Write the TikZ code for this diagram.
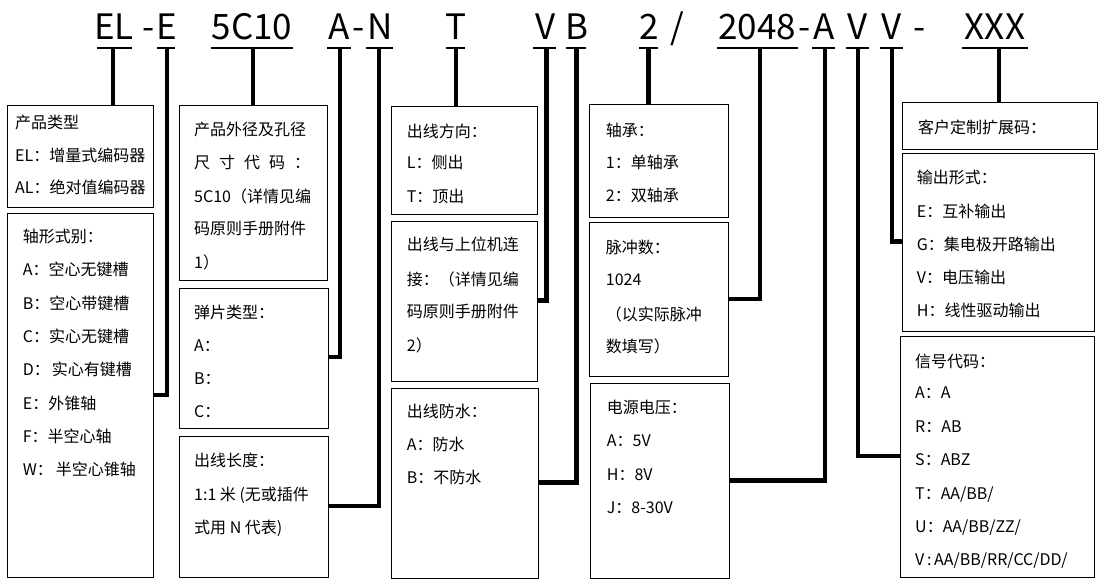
\documentclass[tikz,border=0pt]{standalone}
\usepackage{fontspec}
\setmainfont{Noto Sans CJK SC}
\begin{document}
\begin{tikzpicture}[x=1pt,y=-1pt,
  box/.style={draw, line width=1.2pt, anchor=north west, inner sep=0pt},
  txt/.style={anchor=base west, inner sep=0pt, font=\fontsize{16}{19}\selectfont},
  code/.style={anchor=base, inner sep=0pt, font=\fontsize{35}{40}\selectfont},
  stem/.style={line width=4.5pt, line join=miter},
  uline/.style={line width=2.2pt}]
\useasboundingbox[fill=white] (0,0) rectangle (1102,583);

% ---- code line ----
\node[code] (cEL) at (114,40) {EL};
\node[code] (cd1) at (149,40) {-};
\node[code] (cE) at (167,40) {E};
\node[code] (c5C) at (252,40) {5C10};
\node[code] (cA1) at (339,40) {A};
\node[code] (cd2) at (359,40) {-};
\node[code] (cN) at (380,40) {N};
\node[code] (cT) at (456,40) {T};
\node[code] (cV1) at (546,40) {V};
\node[code] (cB) at (577,40) {B};
\node[code] (c2) at (649,40) {2};
\node[code] (csl) at (677,40) {/};
\node[code] (c2048) at (757,40) {2048};
\node[code] (cd3) at (805,40) {-};
\node[code] (cA2) at (824,40) {A};
\node[code] (cV2) at (858,40) {V};
\node[code] (cV3) at (892,40) {V};
\node[code] (cd4) at (920,40) {-};
\node[code] (cX) at (995,40) {XXX};

% underlines
\draw[uline] (96.5,48) -- (131.6,48);
\draw[uline] (157,48) -- (175,48);
\draw[uline] (210.5,48) -- (293,48);
\draw[uline] (327,48) -- (351,48);
\draw[uline] (366,48) -- (393,48);
\draw[uline] (445.6,48) -- (465,48);
\draw[uline] (533,48) -- (556,48);
\draw[uline] (566,48) -- (586,48);
\draw[uline] (639,48) -- (658,48);
\draw[uline] (717,48) -- (797.5,48);
\draw[uline] (812,48) -- (835,48);
\draw[uline] (846,48) -- (869,48);
\draw[uline] (880,48) -- (903,48);
\draw[uline] (962,48) -- (1028,48);

% ---- boxes ----
\node[box, minimum width=146pt, minimum height=102pt] (b1) at (7,105) {};
\node[box, minimum width=146pt, minimum height=364pt] (b2) at (7,213) {};
\node[box, minimum width=148pt, minimum height=175pt] (b3) at (179,105) {};
\node[box, minimum width=149pt, minimum height=140pt] (b4) at (179,288) {};
\node[box, minimum width=149pt, minimum height=141pt] (b5) at (179,436) {};
\node[box, minimum width=146pt, minimum height=108pt] (b6) at (391,106) {};
\node[box, minimum width=146pt, minimum height=160pt] (b7) at (391,221) {};
\node[box, minimum width=147pt, minimum height=190pt] (b8) at (391,388) {};
\node[box, minimum width=139pt, minimum height=113pt] (b9) at (589,104) {};
\node[box, minimum width=139pt, minimum height=154pt] (b10) at (589,222) {};
\node[box, minimum width=139pt, minimum height=195pt] (b11) at (590,383) {};
\node[box, minimum width=195pt, minimum height=47pt] (b12) at (902,102) {};
\node[box, minimum width=192pt, minimum height=178pt] (b13) at (902,153) {};
\node[box, minimum width=194pt, minimum height=241pt] (b14) at (900,336) {};

% ---- box texts ----
\node[txt] (t1a) at (15,128.5) {产品类型};
\node[txt] (t1b) at (15,161.5) {EL：增量式编码器};
\node[txt] (t1c) at (15,193.5) {AL：绝对值编码器};

\node[txt] (t2a) at (22.7,242.5) {轴形式别：};
\node[txt] (t2b) at (22.7,275.5) {A：空心无键槽};
\node[txt] (t2c) at (22.7,309.5) {B：空心带键槽};
\node[txt] (t2d) at (22.7,342.5) {C：实心无键槽};
\node[txt] (t2e) at (22.7,375.5) {D：\hspace{2pt}实心有键槽};
\node[txt] (t2f) at (22.7,409.5) {E：外锥轴};
\node[txt] (t2g) at (22.7,442.5) {F：半空心轴};
\node[txt] (t2h) at (22.7,475.5) {W：\hspace{3pt}半空心锥轴};

\node[txt] (t3a) at (194,135.5) {产品外径及孔径};
\node[txt] (t3b) at (194,168.5) {尺\hspace{9pt}寸\hspace{9pt}代\hspace{9pt}码\hspace{9pt}：};
\node[txt] (t3c) at (194,202.5) {5C10（详情见编};
\node[txt] (t3d) at (194,234.5) {码原则手册附件};
\node[txt] (t3e) at (194,268.5) {1）};

\node[txt] (t4a) at (194,318.5) {弹片类型：};
\node[txt] (t4b) at (194,351.5) {A：};
\node[txt] (t4c) at (194,384.5) {B：};
\node[txt] (t4d) at (194,417.5) {C：};

\node[txt] (t5a) at (194,466.5) {出线长度：};
\node[txt] (t5b) at (194,500.5) {1:1 米 (无或插件};
\node[txt] (t5c) at (194,533.5) {式用 N 代表)};

\node[txt] (t6a) at (406.7,137.5) {出线方向：};
\node[txt] (t6b) at (406.7,168.5) {L：侧出};
\node[txt] (t6c) at (406.7,202.5) {T：顶出};

\node[txt] (t7a) at (406.7,250.5) {出线与上位机连};
\node[txt] (t7b) at (406.7,285.5) {接：（详情见编};
\node[txt] (t7c) at (406.7,317.5) {码原则手册附件};
\node[txt] (t7d) at (406.7,351.5) {2）};

\node[txt] (t8a) at (406.7,417.5) {出线防水：};
\node[txt] (t8b) at (406.7,450.5) {A：防水};
\node[txt] (t8c) at (406.7,483.5) {B：不防水};

\node[txt] (t9a) at (605.7,136.5) {轴承：};
\node[txt] (t9b) at (605.7,168.5) {1：单轴承};
\node[txt] (t9c) at (605.7,201.5) {2：双轴承};

\node[txt] (t10a) at (605.7,253.5) {脉冲数：};
\node[txt] (t10b) at (605.7,285.5) {1024};
\node[txt] (t10c) at (605.7,320.5) {（以实际脉冲};
\node[txt] (t10d) at (605.7,352.5) {数填写）};

\node[txt] (t11a) at (606.7,413.5) {电源电压：};
\node[txt] (t11b) at (606.7,446.5) {A：5V};
\node[txt] (t11c) at (606.7,480.5) {H：8V};
\node[txt] (t11d) at (606.7,513.5) {J：8-30V};

\node[txt] (t12a) at (918,133.2) {客户定制扩展码：};

\node[txt] (t13a) at (916.7,183.5) {输出形式：};
\node[txt] (t13b) at (916.7,217.5) {E：互补输出};
\node[txt] (t13c) at (916.7,250.5) {G：集电极开路输出};
\node[txt] (t13d) at (916.7,283.5) {V：电压输出};
\node[txt] (t13e) at (916.7,316.5) {H：线性驱动输出};

\node[txt] (t14a) at (915,367.5) {信号代码：};
\node[txt] (t14b) at (915,398.5) {A：A};
\node[txt] (t14c) at (915,432.5) {R：AB};
\node[txt] (t14d) at (915,465.5) {S：ABZ};
\node[txt] (t14e) at (915,499.5) {T：AA/BB/};
\node[txt] (t14f) at (915,532.5) {U：AA/BB/ZZ/};
\node[txt] (t14g) at (915,565.5) {V\,:\,AA/BB/RR/CC/DD/};

% ---- connectors ----
\coordinate (s1) at (113,48);
\coordinate (s2) at (167,48);   \coordinate (h2) at (0,395);
\coordinate (s3) at (253,48);
\coordinate (s4) at (340,48);   \coordinate (h4) at (0,357);
\coordinate (s5) at (379,48);   \coordinate (h5) at (0,506);
\coordinate (s6) at (456,48);
\coordinate (s7) at (546.5,48); \coordinate (h7) at (0,300.7);
\coordinate (s8) at (576.5,48); \coordinate (h8) at (0,482.7);
\coordinate (s9) at (648.5,48);
\coordinate (s10) at (760,48);  \coordinate (h10) at (0,299);
\coordinate (s11) at (825,48);  \coordinate (h11) at (0,480.7);
\coordinate (s12) at (858,48);  \coordinate (h12) at (0,456);
\coordinate (s13) at (892,48);  \coordinate (h13) at (0,241.7);
\coordinate (s14) at (999,48);

\draw[stem] (s1) -- (s1 |- b1.north);
\draw[stem] (s2) |- (b2.east |- h2);
\draw[stem] (s3) -- (s3 |- b3.north);
\draw[stem] (s4) |- (b4.east |- h4);
\draw[stem] (s5) |- (b5.east |- h5);
\draw[stem] (s6) -- (s6 |- b6.north);
\draw[stem] (s7) |- (b7.east |- h7);
\draw[stem] (s8) |- (b8.east |- h8);
\draw[stem] (s9) -- (s9 |- b9.north);
\draw[stem] (s10) |- (b10.east |- h10);
\draw[stem] (s11) |- (b11.east |- h11);
\draw[stem] (s12) |- (b14.west |- h12);
\draw[stem] (s13) |- (b13.west |- h13);
\draw[stem] (s14) -- (s14 |- b12.north);
\end{tikzpicture}
\end{document}
